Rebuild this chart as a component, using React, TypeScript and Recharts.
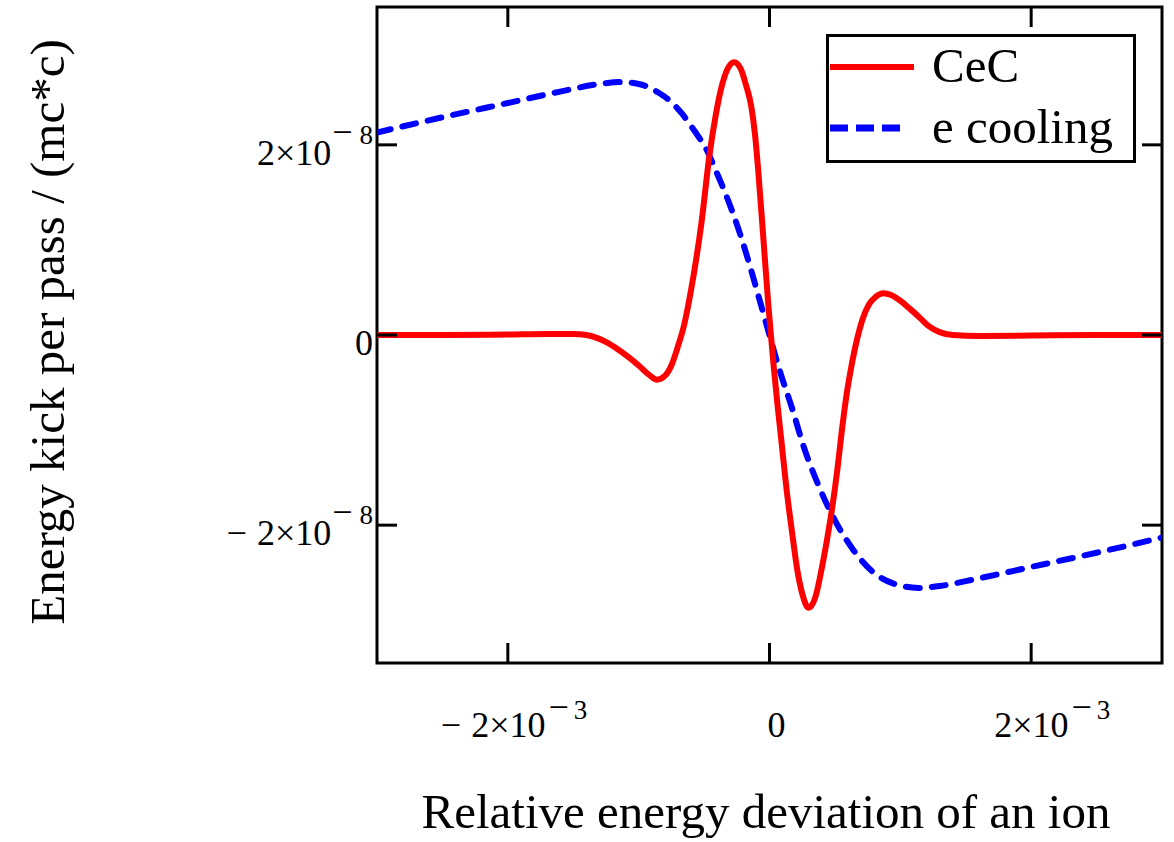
import { LineChart, Line, XAxis, YAxis, ReferenceArea, Label } from 'recharts';

// x in units of 1e-3, y in units of 1e-8
const X_TICKS = [-2, 0, 2];
const Y_TICKS = [-2, 0, 2];
const X_EXP = '3';
const Y_EXP = '8';
const X_DOMAIN = [-3, 3];
const Y_DOMAIN = [-3.45, 3.45];

// CeC kick
const CEC_X = [
  -3.0, -2.5, -2.0, -1.7, -1.5, -1.4, -1.32, -1.24, -1.16, -1.08, -1.0, -0.92, -0.86, -0.8, -0.75,
  -0.7, -0.65, -0.6, -0.56, -0.52, -0.46, -0.41, -0.37, -0.32, -0.27, -0.22, -0.18, -0.14, -0.11,
  -0.085, -0.046, -0.008, 0.03, 0.06, 0.09, 0.13, 0.17, 0.21, 0.25, 0.3, 0.35, 0.4, 0.44, 0.48, 0.52,
  0.55, 0.59, 0.63, 0.67, 0.71, 0.76, 0.81, 0.87, 0.93, 1.0, 1.07, 1.15, 1.22, 1.3, 1.4, 1.6, 2.0, 2.5, 3.0,
];
const CEC_Y = [
  0, 0, 0.005, 0.01, 0.01, 0, -0.03, -0.08, -0.15, -0.23, -0.32, -0.42, -0.47, -0.43, -0.32,
  -0.12, 0.12, 0.47, 0.8, 1.18, 1.88, 2.32, 2.59, 2.8, 2.87, 2.8, 2.63, 2.41, 2.1,
  1.71, 1.0, 0.3, -0.3, -0.72, -1.1, -1.62, -2.05, -2.45, -2.72, -2.87, -2.76, -2.45, -2.15, -1.81, -1.4,
  -1.04, -0.62, -0.3, -0.04, 0.16, 0.32, 0.4, 0.44, 0.42, 0.36, 0.28, 0.18, 0.09, 0.03, 0, -0.01, -0.005, 0, 0,
];

// electron cooling kick
const COOL_X = [
  -3.0, -2.5, -2.0, -1.6, -1.3, -1.14, -1.0, -0.93, -0.85, -0.75, -0.67, -0.6, -0.53, -0.47, -0.42,
  -0.37, -0.29, -0.21, -0.14, -0.07, 0, 0.07, 0.17, 0.27, 0.38, 0.5, 0.63, 0.78, 0.96, 1.14, 1.3,
  1.6, 2.0, 2.5, 3.0,
];
const COOL_Y = [
  2.13, 2.29, 2.44, 2.56, 2.64, 2.66, 2.64, 2.61, 2.55, 2.45, 2.33, 2.2, 2.06, 1.92, 1.76,
  1.6, 1.32, 1.0, 0.68, 0.34, 0, -0.34, -0.76, -1.21, -1.6, -1.95, -2.24, -2.48, -2.62, -2.66, -2.64,
  -2.56, -2.44, -2.29, -2.13,
];

const cecData = CEC_X.map((x, i) => ({ x, y: CEC_Y[i] }));
const coolData = COOL_X.map((x, i) => ({ x, y: COOL_Y[i] }));

const W = 1174;
const H = 842;
const PLOT = { left: 377, top: 7, right: 1162, bottom: 663 };
const TICK = 20;
const SERIF = '"Liberation Serif", "Times New Roman", serif';
const LABEL_SIZE = 36;

function XTick(props: any) {
  const { x, y, payload } = props;
  const v = payload.value;
  const plotH = PLOT.bottom - PLOT.top;
  const neg = v < 0;
  return (
    <g>
      <line x1={x} x2={x} y1={y} y2={y - TICK} stroke="#000" strokeWidth={3} />
      <line x1={x} x2={x} y1={y - plotH} y2={y - plotH + TICK} stroke="#000" strokeWidth={3} />
      {v === 0 ? (
        <text x={x + 7} y={y + 74} textAnchor="middle" fontFamily={SERIF} fontSize={LABEL_SIZE} fill="#000">
          0
        </text>
      ) : (
        <text x={x - 37 - (neg ? 30 : 0)} y={y + 74} textAnchor="start" fontFamily={SERIF} fontSize={LABEL_SIZE} fill="#000">
          {neg && <tspan>−</tspan>}
          <tspan dx={neg ? 10 : 0}>{Math.abs(v)}×10</tspan>
          <tspan dx={3} dy={-18}>−</tspan>
          <tspan dx={5} fontSize={27}>{X_EXP}</tspan>
        </text>
      )}
    </g>
  );
}

function YTick(props: any) {
  const { x, y, payload } = props;
  const v = payload.value;
  const plotW = PLOT.right - PLOT.left;
  const neg = v < 0;
  return (
    <g>
      <line x1={x} x2={x + TICK} y1={y} y2={y} stroke="#000" strokeWidth={3} />
      <line x1={x + plotW} x2={x + plotW - TICK} y1={y} y2={y} stroke="#000" strokeWidth={3} />
      <text x={x - 4} y={y + 20} textAnchor="end" fontFamily={SERIF} fontSize={LABEL_SIZE} fill="#000">
        {v === 0 ? (
          '0'
        ) : (
          <>
            {neg && <tspan>−</tspan>}
            <tspan dx={neg ? 10 : 0}>{Math.abs(v)}×10</tspan>
            <tspan dx={1} dy={-21}>−</tspan>
            <tspan dx={7} fontSize={27}>{Y_EXP}</tspan>
          </>
        )}
      </text>
    </g>
  );
}

const XTitle = () => (
  <text x={766} y={828} textAnchor="middle" fontFamily={SERIF} fontSize={49} fill="#000">
    Relative energy deviation of an ion
  </text>
);

const YTitle = () => (
  <text
    x={47}
    y={332}
    transform="rotate(-90 47 332)"
    textAnchor="middle"
    dominantBaseline="central"
    fontFamily={SERIF}
    fontSize={49}
    fill="#000"
  >
    Energy kick per pass / (mc*c)
  </text>
);

export default function App() {
  return (
    <div style={{ position: 'absolute', left: 0, top: 0, width: W, height: H, background: '#fff' }}>
      <LineChart
        width={W}
        height={H}
        margin={{ top: PLOT.top, right: W - PLOT.right, bottom: 0, left: 0 }}
      >
        <XAxis
          dataKey="x"
          type="number"
          domain={X_DOMAIN}
          ticks={X_TICKS}
          allowDataOverflow
          height={H - PLOT.bottom}
          axisLine={false}
          tickLine={false}
          tickSize={0}
          tickMargin={0}
          tick={<XTick />}
          interval={0}
          label={<Label content={<XTitle />} />}
        />
        <YAxis
          type="number"
          domain={Y_DOMAIN}
          ticks={Y_TICKS}
          allowDataOverflow
          width={PLOT.left}
          axisLine={false}
          tickLine={false}
          tickSize={0}
          tickMargin={0}
          tick={<YTick />}
          interval={0}
          label={<Label content={<YTitle />} />}
        />
        <ReferenceArea
          x1={X_DOMAIN[0]}
          x2={X_DOMAIN[1]}
          y1={Y_DOMAIN[0]}
          y2={Y_DOMAIN[1]}
          fill="none"
          stroke="#000"
          strokeWidth={3}
        />
        <Line
          data={coolData}
          dataKey="y"
          type="monotone"
          stroke="#0000ff"
          strokeWidth={6}
          strokeDasharray="14 12"
          strokeLinecap="round"
          dot={false}
          activeDot={false}
          isAnimationActive={false}
        />
        <Line
          data={cecData}
          dataKey="y"
          type="monotone"
          stroke="#ff0000"
          strokeWidth={6}
          dot={false}
          activeDot={false}
          isAnimationActive={false}
        />
      </LineChart>
      <svg style={{ position: 'absolute', left: 826, top: 34 }} width={310} height={129}>
        <rect x={1.5} y={1.5} width={307} height={126} fill="#fff" stroke="#000" strokeWidth={3} />
        <line x1={4} x2={88} y1={33} y2={33} stroke="#ff0000" strokeWidth={6} />
        <line x1={4} x2={74} y1={94} y2={94} stroke="#0000ff" strokeWidth={7} strokeDasharray="18 8" />
        <text x={106} y={48} fontFamily={SERIF} fontSize={49} fill="#000">
          CeC
        </text>
        <text x={106} y={109} fontFamily={SERIF} fontSize={49} fill="#000">
          e cooling
        </text>
      </svg>
    </div>
  );
}
